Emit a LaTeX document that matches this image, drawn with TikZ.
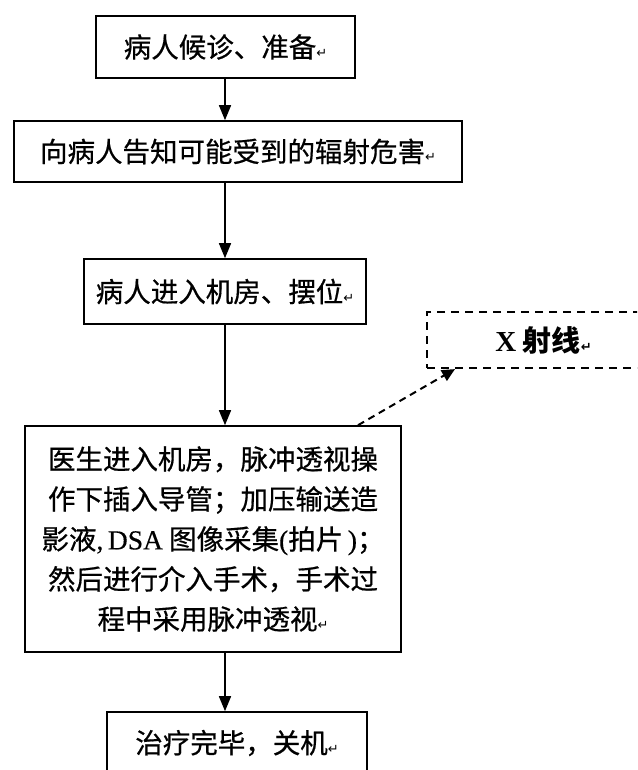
\documentclass[tikz,border=0pt]{standalone}
\usepackage{fontspec}
\setmainfont{Liberation Serif}
\newfontfamily\cjk[FakeBold=0.6]{Noto Sans CJK SC}
\newfontfamily\cjkx{Noto Sans CJK SC}
\newfontfamily\lat[FakeBold=0.4]{Liberation Serif}
\newfontfamily\latx{Liberation Serif}
\newfontfamily\symf{DejaVu Sans}
\usetikzlibrary{arrows.meta}
\newcommand{\retmk}{{\symf\fontsize{13}{13}\selectfont ↵}}
\tikzset{
  stepbox/.style={draw, line width=1.6pt, rectangle, inner sep=0pt,
    font=\cjk\fontsize{27.5}{40}\selectfont, align=center},
  xbox/.style={draw, line width=2.2pt, dash pattern=on 8pt off 6pt, rectangle, inner sep=0pt,
    font=\cjkx\bfseries\fontsize{29}{30}\selectfont},
  arr/.style={line width=1.5pt, -{Triangle[length=15pt,width=12pt]}},
  darr/.style={line width=2pt, dash pattern=on 7pt off 5pt, -{Triangle[length=13pt,width=12pt]}}
}
\begin{document}
\begin{tikzpicture}[x=1pt,y=-1pt]
\useasboundingbox (0,0) rectangle (637,770);
\clip (0,0) rectangle (637,770);
\fill[white] (0,0) rectangle (637,770);
\node[stepbox, minimum width=259pt, minimum height=62pt] (b1) at (225.5,47) {病人候诊、准备\retmk};
\node[stepbox, minimum width=448pt, minimum height=61pt] (b2) at (238,151.5) {向病人告知可能受到的辐射危害\retmk};
\node[stepbox, minimum width=282pt, minimum height=65pt] (b3) at (225,291.5) {病人进入机房、摆位\retmk};
\node[stepbox, minimum width=376pt, minimum height=226pt] (b4) at (213,539) {医生进入机房，脉冲透视操\\作下插入导管；加压输送造\\影液{\lat ,\,DSA} 图像采集{\lat (}拍片{\lat\,)}；\\然后进行介入手术，手术过\\程中采用脉冲透视\retmk};
\node[stepbox, minimum width=260pt, minimum height=62pt] (b5) at (237,743) {治疗完毕，关机\retmk};
\node[xbox, minimum width=233pt, minimum height=56pt] (xr) at (543.5,340) {{\latx\bfseries X} 射线\retmk};
\coordinate (ax) at (225,0);
\coordinate (dx1) at (358,0);
\coordinate (dx2) at (455,0);
\draw[arr] (ax |- b1.south) -- (ax |- b2.north);
\draw[arr] (ax |- b2.south) -- (ax |- b3.north);
\draw[arr] (ax |- b3.south) -- (ax |- b4.north);
\draw[arr] (ax |- b4.south) -- (ax |- b5.north);
\draw[darr] (dx1 |- b4.north) -- (dx2 |- xr.south);
\end{tikzpicture}
\end{document}
